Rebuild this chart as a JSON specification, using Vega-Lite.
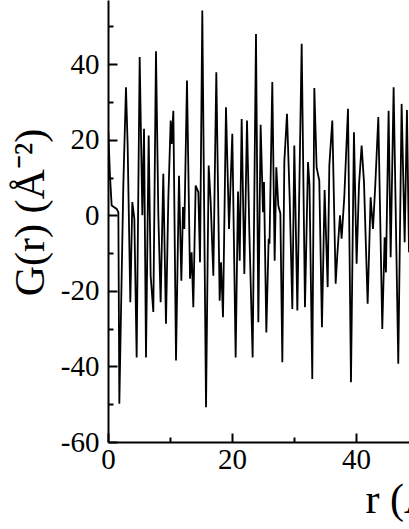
{
  "$schema": "https://vega.github.io/schema/vega-lite/v6.json",
  "width": 301,
  "height": 442,
  "autosize": {"type": "none"},
  "padding": {"left": 108, "top": 0, "right": 0, "bottom": 87},
  "background": "white",
  "config": {
    "view": {"stroke": null},
    "axis": {
      "grid": false,
      "domainColor": "black",
      "domainWidth": 2,
      "tickColor": "black",
      "tickWidth": 2,
      "labelFont": "Liberation Serif",
      "labelFontSize": 29,
      "labelColor": "black",
      "labelOverlap": false,
      "labelFlush": false,
      "titleFont": "Liberation Serif",
      "titleFontSize": 42,
      "titleFontWeight": "normal",
      "titleColor": "black"
    }
  },
  "data": {
    "values": [
      {"r": 0.05, "G": 22.0},
      {"r": 0.32, "G": 10.5},
      {"r": 0.59, "G": 2.6},
      {"r": 1.40, "G": 1.7},
      {"r": 1.67, "G": 0.8},
      {"r": 1.83, "G": -49.9},
      {"r": 2.47, "G": 7.9},
      {"r": 2.90, "G": 33.9},
      {"r": 3.17, "G": 18.5},
      {"r": 3.60, "G": -23.0},
      {"r": 3.92, "G": 3.5},
      {"r": 4.25, "G": -0.9},
      {"r": 4.62, "G": -37.6},
      {"r": 5.11, "G": 41.9},
      {"r": 5.54, "G": 0.0},
      {"r": 5.81, "G": 22.9},
      {"r": 6.13, "G": -37.6},
      {"r": 6.56, "G": 21.1},
      {"r": 6.88, "G": -16.0},
      {"r": 7.31, "G": -25.6},
      {"r": 7.74, "G": 43.4},
      {"r": 8.12, "G": 0.0},
      {"r": 8.49, "G": -23.0},
      {"r": 8.92, "G": 11.0},
      {"r": 9.35, "G": -28.7},
      {"r": 9.73, "G": 4.4},
      {"r": 10.11, "G": 25.1},
      {"r": 10.27, "G": 18.9},
      {"r": 10.54, "G": 27.7},
      {"r": 10.97, "G": -38.4},
      {"r": 11.45, "G": 10.5},
      {"r": 11.83, "G": -17.3},
      {"r": 12.10, "G": 2.2},
      {"r": 12.31, "G": -3.6},
      {"r": 12.74, "G": 35.7},
      {"r": 13.23, "G": -16.8},
      {"r": 13.49, "G": -9.8},
      {"r": 13.76, "G": -24.3},
      {"r": 14.14, "G": 7.9},
      {"r": 14.57, "G": 6.1},
      {"r": 14.84, "G": -12.4},
      {"r": 15.21, "G": 54.2},
      {"r": 15.81, "G": -50.8},
      {"r": 16.24, "G": 13.2},
      {"r": 16.56, "G": 3.5},
      {"r": 16.99, "G": -16.0},
      {"r": 17.47, "G": 37.9},
      {"r": 18.01, "G": -22.6},
      {"r": 18.23, "G": -12.4},
      {"r": 18.55, "G": -27.0},
      {"r": 19.03, "G": 28.6},
      {"r": 19.52, "G": -3.6},
      {"r": 20.05, "G": 21.6},
      {"r": 20.59, "G": -37.6},
      {"r": 20.97, "G": 6.3},
      {"r": 21.24, "G": -12.0},
      {"r": 21.56, "G": 25.5},
      {"r": 21.99, "G": -15.5},
      {"r": 22.42, "G": 25.1},
      {"r": 22.80, "G": -4.5},
      {"r": 23.33, "G": -37.6},
      {"r": 23.87, "G": 48.0},
      {"r": 24.25, "G": -28.3},
      {"r": 24.62, "G": 24.0},
      {"r": 25.00, "G": 0.8},
      {"r": 25.16, "G": 8.8},
      {"r": 25.54, "G": -31.0},
      {"r": 25.91, "G": -6.2},
      {"r": 26.05, "G": -7.5},
      {"r": 26.50, "G": 35.3},
      {"r": 26.88, "G": -12.0},
      {"r": 27.15, "G": 12.7},
      {"r": 27.47, "G": 2.6},
      {"r": 27.80, "G": 0.5},
      {"r": 28.12, "G": -38.9},
      {"r": 28.44, "G": 14.1},
      {"r": 28.87, "G": 26.9},
      {"r": 29.30, "G": 4.8},
      {"r": 29.73, "G": -24.8},
      {"r": 30.05, "G": 18.5},
      {"r": 30.54, "G": -25.2},
      {"r": 31.24, "G": 45.4},
      {"r": 31.77, "G": -24.3},
      {"r": 32.26, "G": 14.1},
      {"r": 32.50, "G": 8.0},
      {"r": 32.95, "G": -43.3},
      {"r": 33.28, "G": 33.7},
      {"r": 33.65, "G": 12.7},
      {"r": 34.08, "G": 9.2},
      {"r": 34.51, "G": -29.6},
      {"r": 34.94, "G": 6.7},
      {"r": 35.43, "G": -19.0},
      {"r": 35.70, "G": 13.2},
      {"r": 36.18, "G": 25.1},
      {"r": 36.72, "G": -18.1},
      {"r": 36.98, "G": -10.6},
      {"r": 37.42, "G": 0.0},
      {"r": 37.68, "G": -6.2},
      {"r": 38.11, "G": 4.8},
      {"r": 38.71, "G": 28.2},
      {"r": 39.19, "G": -44.2},
      {"r": 39.67, "G": 22.0},
      {"r": 40.10, "G": -12.8},
      {"r": 40.48, "G": 7.9},
      {"r": 40.91, "G": 18.5},
      {"r": 41.29, "G": 8.8},
      {"r": 41.88, "G": -23.4},
      {"r": 42.36, "G": 4.8},
      {"r": 42.74, "G": -3.6},
      {"r": 43.11, "G": 7.9},
      {"r": 43.60, "G": 26.0},
      {"r": 44.24, "G": -30.1},
      {"r": 44.62, "G": -5.8},
      {"r": 44.83, "G": -15.1},
      {"r": 45.26, "G": 27.7},
      {"r": 45.59, "G": -11.1},
      {"r": 46.07, "G": 33.9},
      {"r": 46.82, "G": -39.3},
      {"r": 47.36, "G": 29.5},
      {"r": 47.85, "G": -7.1},
      {"r": 48.22, "G": 27.9},
      {"r": 48.55, "G": -9.8},
      {"r": 49.00, "G": 5.0}
    ]
  },
  "mark": {"type": "line", "color": "black", "strokeWidth": 1.8, "clip": true, "interpolate": "linear"},
  "encoding": {
    "x": {
      "field": "r",
      "type": "quantitative",
      "scale": {"domain": [0, 48.55], "nice": false, "zero": false},
      "axis": {
        "values": [0, 10, 20, 30, 40],
        "labelExpr": "datum.value % 20 === 0 ? '' + datum.value : ''",
        "tickSize": {"condition": {"test": "datum.value % 20 === 0", "value": -9}, "value": -5},
        "labelPadding": 12,
        "labelBaseline": "top",
        "title": "r (Å)",
        "titleAnchor": "start",
        "titleAlign": "left",
        "titleX": 257,
        "titleY": 70,
        "titleBaseline": "alphabetic"
      }
    },
    "y": {
      "field": "G",
      "type": "quantitative",
      "scale": {"domain": [-60, 57], "nice": false, "zero": false},
      "axis": {
        "values": [-60, -50, -40, -30, -20, -10, 0, 10, 20, 30, 40, 50],
        "labelExpr": "datum.value % 20 === 0 ? '' + datum.value : ''",
        "tickSize": {"condition": {"test": "datum.value % 20 === 0", "value": -9}, "value": -5},
        "labelPadding": 18,
        "labelAlign": "right",
        "labelBaseline": "middle",
        "title": "G(r) (Å⁻²)",
        "titleX": -65,
        "titleY": 212,
        "titleAngle": -90,
        "titleAlign": "center",
        "titleBaseline": "alphabetic"
      }
    }
  }
}
